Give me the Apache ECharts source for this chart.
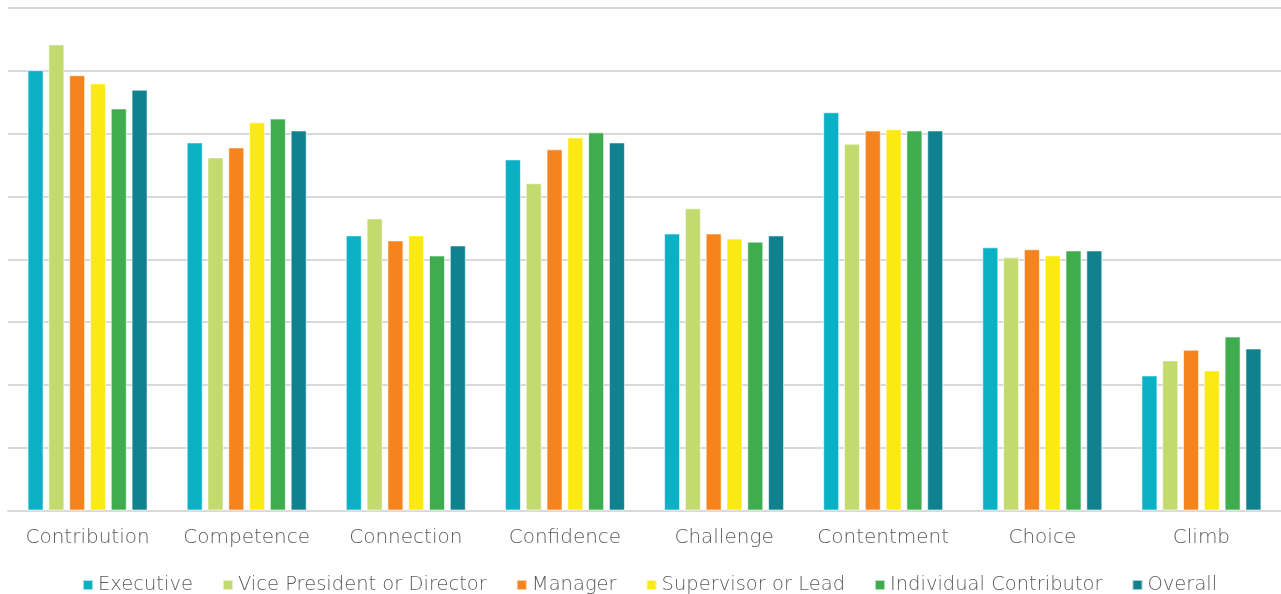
<!DOCTYPE html>
<html>
<head>
<meta charset="utf-8">
<script src="https://cdn.jsdelivr.net/npm/echarts@6/dist/echarts.min.js"></script>
<style>
  html, body { margin: 0; padding: 0; background: #fff; }
  #chart { width: 1281px; height: 594px; }
</style>
</head>
<body>
<div id="chart"></div>
<script>
// Dimension categories along the x axis
const categories = ['Contribution', 'Competence', 'Connection', 'Confidence', 'Challenge', 'Contentment', 'Choice', 'Climb'];

// Scores per role level
const executive      = [7.01, 5.86, 4.38, 5.59, 4.41, 6.34, 4.19, 2.15];
const vicePresident  = [7.42, 5.62, 4.65, 5.21, 4.81, 5.84, 4.03, 2.39];
const manager        = [6.93, 5.78, 4.30, 5.75, 4.41, 6.05, 4.16, 2.56];
const supervisor     = [6.80, 6.18, 4.38, 5.94, 4.33, 6.07, 4.06, 2.23];
const individual     = [6.40, 6.24, 4.06, 6.02, 4.28, 6.05, 4.14, 2.77];
const overall        = [6.70, 6.05, 4.22, 5.86, 4.38, 6.05, 4.14, 2.58];

const seriesNames = ['Executive', 'Vice President or Director', 'Manager', 'Supervisor or Lead', 'Individual Contributor', 'Overall'];
const seriesData  = [executive, vicePresident, manager, supervisor, individual, overall];
const colors = ['#0AB1C4', '#C2DA6E', '#F5841F', '#FBEA12', '#3FAD4E', '#10818F'];

const fontFamily = '"DejaVu Sans", Lato, sans-serif';

const chart = echarts.init(document.getElementById('chart'));
chart.setOption({
  animation: false,
  color: colors,
  grid: { left: 8, right: 0, top: 8, bottom: 83.5, containLabel: false },
  legend: {
    top: 570,
    left: 77,
    itemWidth: 10,
    itemHeight: 10,
    itemGap: 29,
    icon: 'rect',
    textStyle: { color: '#5a5a5a', fontSize: 19.5, fontFamily: fontFamily, fontWeight: 300 }
  },
  xAxis: {
    type: 'category',
    data: categories,
    axisLine: { lineStyle: { color: '#d9d9d9', width: 2 } },
    axisTick: { show: false },
    axisLabel: { interval: 0, color: '#5a5a5a', fontSize: 20, fontFamily: fontFamily, fontWeight: 300, margin: 17 }
  },
  yAxis: {
    type: 'value',
    min: 0,
    max: 8,
    interval: 1,
    axisLabel: { show: false },
    axisLine: { show: false },
    axisTick: { show: false },
    splitLine: { lineStyle: { color: '#d9d9d9', width: 2 } }
  },
  series: seriesNames.map((name, i) => ({
    name: name,
    type: 'bar',
    data: seriesData[i],
    barWidth: 16,
    barGap: '30%',
    itemStyle: { borderColor: 'rgba(255,255,255,0.6)', borderWidth: 1 }
  }))
});
</script>
</body>
</html>
